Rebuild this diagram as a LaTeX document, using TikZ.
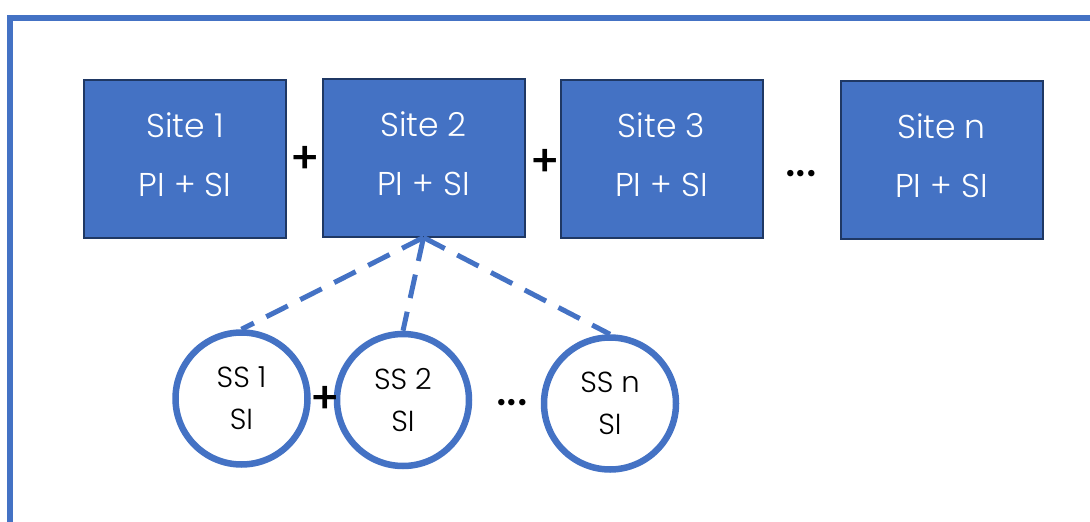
\documentclass[tikz,border=0pt]{standalone}
\usepackage{fontspec}
\setmainfont{Poppins}[UprightFont=* Light, BoldFont=* Medium]
\definecolor{siteblue}{HTML}{4472C4}
\definecolor{sitedark}{HTML}{1F3864}

\begin{document}
\begin{tikzpicture}[x=1pt,y=-1pt]
\tikzset{
  sitebox/.style={draw=sitedark, line width=2pt, fill=siteblue, text=white,
    minimum width=202pt, minimum height=158pt, inner sep=0pt, align=center,
    font=\fontsize{33}{59}\selectfont},
  subsite/.style={circle, draw=siteblue, line width=6.5pt, fill=white,
    minimum size=132pt, inner sep=0pt, align=center,
    font=\fontsize{29}{42}\selectfont},
  link/.style={draw=siteblue, line width=5pt, dash pattern=on 24pt off 14pt},
  opsign/.style={inner sep=0pt, font=\fontsize{44}{44}\selectfont\bfseries}
}
\useasboundingbox (0,0) rectangle (1090,522);
\begin{scope}
\clip (0,0) rectangle (1090,522);
\draw [siteblue, line width=6pt] (10,530) -- (10,18) -- (1100,18);
\end{scope}
% top row of sites
\node [sitebox] (site1) at (185,159) {Site 1\\PI + SI\\[-51pt]};
\node [sitebox] (site2) at (423.5,157.5) {Site 2\\PI + SI\\[-51pt]};
\node [sitebox] (site3) at (661.5,159) {Site 3\\PI + SI\\[-51pt]};
\node [sitebox] (siten) at (941.5,159.5) {Site n\\PI + SI\\[-51pt]};
\node [opsign] (plus1) at (305,160) {+};
\node [opsign] (plus2) at (545,163) {+};
\node [opsign] (dots1) at (801,174) {...};
% sub-sites of site 2
\node [subsite] (ss1) at (241.5,398.5) {SS 1\\SI};
\node [subsite] (ss2) at (403,400) {SS 2\\SI};
\node [subsite] (ssn) at (610,403.5) {SS n\\SI};
\node [opsign] (plus3) at (325,400) {+};
\node [opsign] (dots2) at (512,403) {...};
\draw [link] (site2.south) -- (ss1.north);
\draw [link] (site2.south) -- (ss2.north);
\draw [link] (site2.south) -- (ssn.north);
\end{tikzpicture}
\end{document}
